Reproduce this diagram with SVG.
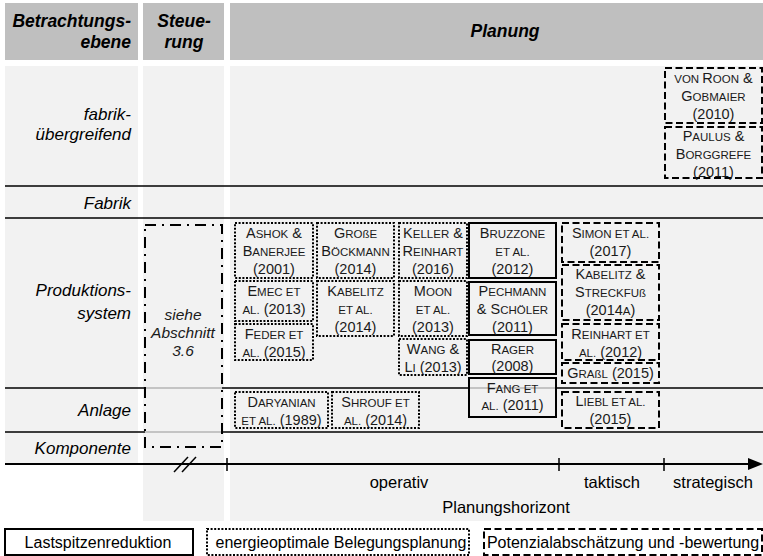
<svg xmlns="http://www.w3.org/2000/svg" width="763" height="556" viewBox="0 0 763 556">
  <style>
    text { font-family: "Liberation Sans", Arial, sans-serif; fill: #1a1a1a; }
    .hd { font-size: 17.5px; font-weight: bold; font-style: italic; fill: #000; }
    .lv { font-size: 17px; font-style: italic; text-anchor: end; fill: #000; }
    .ref { font-size: 14.5px; text-anchor: middle; }
    .s { font-size: 11.5px; }
    .ax { font-size: 16.5px; text-anchor: middle; fill: #000; }
    .lg { font-size: 16px; text-anchor: middle; fill: #000; }
    .rule { stroke: #000; stroke-width: 1.6; }
    .solid { fill: #f2f2f2; fill-opacity: 0.75; stroke: #000; stroke-width: 2; }
    .dot { fill: #f2f2f2; fill-opacity: 0.75; stroke: #000; stroke-width: 2; stroke-dasharray: 2 1.6; }
    .dash { fill: #f2f2f2; fill-opacity: 0.75; stroke: #000; stroke-width: 2; stroke-dasharray: 7 3.5; }
    .dashdot { fill: #f2f2f2; fill-opacity: 0.75; stroke: #000; stroke-width: 2; stroke-dasharray: 11 6 2 6; }
    .tick { stroke: #000; stroke-width: 1.5; }
  </style>

  <rect width="763" height="556" fill="#fff"/>

  <!-- column headers -->
  <g id="header">
    <rect x="5" y="3" width="133" height="57" fill="#bfbfbf"/>
    <rect x="143" y="3" width="81" height="57" fill="#bfbfbf"/>
    <rect x="230" y="3" width="533" height="57" fill="#bfbfbf"/>
    <text class="hd" x="131" y="27" text-anchor="end">Betrachtungs-</text>
    <text class="hd" x="131" y="48" text-anchor="end">ebene</text>
    <text class="hd" x="184" y="27" text-anchor="middle">Steue-</text>
    <text class="hd" x="184" y="48" text-anchor="middle">rung</text>
    <text class="hd" x="505" y="37" text-anchor="middle">Planung</text>
  </g>

  <!-- column bodies -->
  <g id="columns">
    <rect x="5" y="66" width="133" height="397" fill="#f2f2f2"/>
    <rect x="143" y="66" width="81" height="455" fill="#f2f2f2"/>
    <rect x="230" y="66" width="533" height="455" fill="#f2f2f2"/>
  </g>

  <!-- level separators -->
  <g id="rules">
    <line class="rule" x1="5" y1="186" x2="763" y2="186"/>
    <line class="rule" x1="5" y1="218" x2="763" y2="218"/>
    <line class="rule" x1="5" y1="388" x2="763" y2="388"/>
    <line class="rule" x1="5" y1="432" x2="763" y2="432"/>
  </g>

  <!-- level labels -->
  <g id="levels">
    <text class="lv" x="131" y="120">fabrik-</text>
    <text class="lv" x="131" y="140">übergreifend</text>
    <text class="lv" x="131" y="209">Fabrik</text>
    <text class="lv" x="131" y="296">Produktions-</text>
    <text class="lv" x="131" y="319">system</text>
    <text class="lv" x="131" y="416">Anlage</text>
    <text class="lv" x="131" y="454">Komponente</text>
  </g>

  <!-- control column -->
  <g id="steuerung">
    <rect class="dashdot" x="145" y="225" width="77" height="222"/>
    <text x="183" y="320" font-size="15.5" font-style="italic" text-anchor="middle">siehe</text>
    <text x="183" y="338" font-size="15.5" font-style="italic" text-anchor="middle">Abschnitt</text>
    <text x="183" y="356" font-size="15.5" font-style="italic" text-anchor="middle">3.6</text>
  </g>

  <!-- energy-optimal scheduling (dotted) -->
  <g id="ashok">
    <rect class="dot" x="235" y="223" width="78" height="55"/>
    <text class="ref" x="274" y="238">A<tspan class="s">SHOK</tspan> &amp;</text>
    <text class="ref" x="274" y="256">B<tspan class="s">ANERJEE</tspan></text>
    <text class="ref" x="274" y="274">(2001)</text>
  </g>
  <g id="grosse">
    <rect class="dot" x="317" y="223" width="77" height="55"/>
    <text class="ref" x="355.5" y="238">G<tspan class="s">ROßE</tspan></text>
    <text class="ref" x="355.5" y="256">B<tspan class="s">ÖCKMANN</tspan></text>
    <text class="ref" x="355.5" y="274">(2014)</text>
  </g>
  <g id="keller">
    <rect class="dot" x="399" y="223" width="68" height="55"/>
    <text class="ref" x="433" y="238">K<tspan class="s">ELLER</tspan> &amp;</text>
    <text class="ref" x="433" y="256">R<tspan class="s">EINHART</tspan></text>
    <text class="ref" x="433" y="274">(2016)</text>
  </g>
  <g id="emec">
    <rect class="dot" x="235" y="281" width="78" height="40"/>
    <text class="ref" x="274" y="296">E<tspan class="s">MEC ET</tspan></text>
    <text class="ref" x="274" y="314"><tspan class="s">AL.</tspan> (2013)</text>
  </g>
  <g id="feder">
    <rect class="dot" x="235" y="324" width="78" height="36"/>
    <text class="ref" x="274" y="339">F<tspan class="s">EDER ET</tspan></text>
    <text class="ref" x="274" y="357"><tspan class="s">AL.</tspan> (2015)</text>
  </g>
  <g id="kabelitz2014">
    <rect class="dot" x="317" y="281" width="77" height="55"/>
    <text class="ref" x="355.5" y="296">K<tspan class="s">ABELITZ</tspan></text>
    <text class="ref" x="355.5" y="314"><tspan class="s">ET AL.</tspan></text>
    <text class="ref" x="355.5" y="332">(2014)</text>
  </g>
  <g id="moon">
    <rect class="dot" x="399" y="281" width="68" height="55"/>
    <text class="ref" x="433" y="296">M<tspan class="s">OON</tspan></text>
    <text class="ref" x="433" y="314"><tspan class="s">ET AL.</tspan></text>
    <text class="ref" x="433" y="332">(2013)</text>
  </g>
  <g id="wang">
    <rect class="dot" x="399" y="339" width="68" height="36"/>
    <text class="ref" x="433" y="354">W<tspan class="s">ANG</tspan> &amp;</text>
    <text class="ref" x="433" y="372">L<tspan class="s">I</tspan> (2013)</text>
  </g>
  <g id="daryanian">
    <rect class="dot" x="235" y="392" width="93" height="36"/>
    <text class="ref" x="281.5" y="407">D<tspan class="s">ARYANIAN</tspan></text>
    <text class="ref" x="281.5" y="425"><tspan class="s">ET AL.</tspan> (1989)</text>
  </g>
  <g id="shrouf">
    <rect class="dot" x="332" y="392" width="87" height="36"/>
    <text class="ref" x="375.5" y="407">S<tspan class="s">HROUF ET</tspan></text>
    <text class="ref" x="375.5" y="425"><tspan class="s">AL.</tspan> (2014)</text>
  </g>

  <!-- peak load reduction (solid) -->
  <g id="bruzzone">
    <rect class="solid" x="469" y="223" width="87" height="55"/>
    <text class="ref" x="512.5" y="238">B<tspan class="s">RUZZONE</tspan></text>
    <text class="ref" x="512.5" y="256"><tspan class="s">ET AL.</tspan></text>
    <text class="ref" x="512.5" y="274">(2012)</text>
  </g>
  <g id="pechmann">
    <rect class="solid" x="469" y="282" width="87" height="53"/>
    <text class="ref" x="512.5" y="296">P<tspan class="s">ECHMANN</tspan></text>
    <text class="ref" x="512.5" y="314">&amp; S<tspan class="s">CHÖLER</tspan></text>
    <text class="ref" x="512.5" y="332">(2011)</text>
  </g>
  <g id="rager">
    <rect class="solid" x="469" y="340" width="87" height="34"/>
    <text class="ref" x="512.5" y="354">R<tspan class="s">AGER</tspan></text>
    <text class="ref" x="512.5" y="371">(2008)</text>
  </g>
  <g id="fang">
    <rect class="solid" x="469" y="378" width="87" height="39"/>
    <text class="ref" x="512.5" y="393">F<tspan class="s">ANG ET</tspan></text>
    <text class="ref" x="512.5" y="410"><tspan class="s">AL.</tspan> (2011)</text>
  </g>

  <!-- potential estimation (dashed) -->
  <g id="simon">
    <rect class="dash" x="562" y="223" width="97" height="39"/>
    <text class="ref" x="610.5" y="238">S<tspan class="s">IMON ET AL.</tspan></text>
    <text class="ref" x="610.5" y="256">(2017)</text>
  </g>
  <g id="kabelitz2014a">
    <rect class="dash" x="562" y="265" width="97" height="55"/>
    <text class="ref" x="610.5" y="279">K<tspan class="s">ABELITZ</tspan> &amp;</text>
    <text class="ref" x="610.5" y="297">S<tspan class="s">TRECKFUß</tspan></text>
    <text class="ref" x="610.5" y="315">(2014<tspan class="s">A</tspan>)</text>
  </g>
  <g id="reinhart">
    <rect class="dash" x="562" y="324" width="97" height="36"/>
    <text class="ref" x="610.5" y="339">R<tspan class="s">EINHART ET</tspan></text>
    <text class="ref" x="610.5" y="357"><tspan class="s">AL.</tspan> (2012)</text>
  </g>
  <g id="grassl">
    <rect class="dash" x="562" y="363" width="97" height="20"/>
    <text class="ref" x="610.5" y="378">G<tspan class="s">RAßL</tspan> (2015)</text>
  </g>
  <g id="liebl">
    <rect class="dash" x="562" y="392" width="97" height="36"/>
    <text class="ref" x="610.5" y="406">L<tspan class="s">IEBL ET AL.</tspan></text>
    <text class="ref" x="610.5" y="424">(2015)</text>
  </g>
  <g id="vonroon">
    <rect class="dash" x="665" y="68" width="97" height="55"/>
    <text class="ref" x="713.5" y="83"><tspan class="s">VON </tspan>R<tspan class="s">OON</tspan> &amp;</text>
    <text class="ref" x="713.5" y="101">G<tspan class="s">OBMAIER</tspan></text>
    <text class="ref" x="713.5" y="119">(2010)</text>
  </g>
  <g id="paulus">
    <rect class="dash" x="665" y="127" width="97" height="51"/>
    <text class="ref" x="713.5" y="141">P<tspan class="s">AULUS</tspan> &amp;</text>
    <text class="ref" x="713.5" y="159">B<tspan class="s">ORGGREFE</tspan></text>
    <text class="ref" x="713.5" y="177">(2011)</text>
  </g>

  <!-- planning horizon axis -->
  <g id="connectors">
    <line x1="5" y1="464" x2="750" y2="464" stroke="#000" stroke-width="2"/>
    <polygon points="748,458 763,464 748,470" fill="#000"/>
    <line class="tick" x1="227" y1="458" x2="227" y2="471"/>
    <line class="tick" x1="559" y1="458" x2="559" y2="471"/>
    <line class="tick" x1="664" y1="458" x2="664" y2="471"/>
    <line class="tick" x1="174" y1="472" x2="188" y2="457"/>
    <line class="tick" x1="182" y1="472" x2="196" y2="457"/>
  </g>
  <g id="horizon">
    <text class="ax" x="399" y="488">operativ</text>
    <text class="ax" x="612" y="488">taktisch</text>
    <text class="ax" x="713" y="488">strategisch</text>
    <text class="ax" x="506" y="513">Planungshorizont</text>
  </g>

  <!-- legend -->
  <g id="legend-lastspitze">
    <rect x="5" y="529" width="188" height="26" fill="#fff" stroke="#000" stroke-width="2"/>
    <text class="lg" x="98" y="548">Lastspitzenreduktion</text>
  </g>
  <g id="legend-belegung">
    <rect x="207" y="529" width="262" height="26" fill="#fff" stroke="#000" stroke-width="2" stroke-dasharray="2 1.6"/>
    <text class="lg" x="341" y="548">energieoptimale Belegungsplanung</text>
  </g>
  <g id="legend-potenzial">
    <rect x="484" y="529" width="278" height="26" fill="#fff" stroke="#000" stroke-width="2" stroke-dasharray="7 3.5"/>
    <text class="lg" x="623" y="548">Potenzialabschätzung und -bewertung</text>
  </g>
</svg>
